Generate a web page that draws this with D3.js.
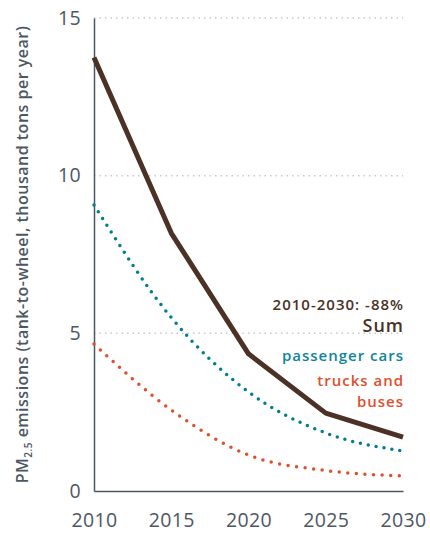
<!DOCTYPE html>
<html>
<head>
<meta charset="utf-8">
<script src="https://cdn.jsdelivr.net/npm/d3@7"></script>
<style>
  body { margin: 0; background: #fff; }
  #chart { width: 430px; height: 533px; }
  .axis text { font-family: "Open Sans", sans-serif; font-size: 19.5px; fill: #4d5763; letter-spacing: 0.3px; }
  .axis path, .axis line { stroke: #4d5763; }
  .ylabel { font-family: "Open Sans", sans-serif; font-size: 16px; font-weight: 600; fill: #4d5763; letter-spacing: 0.5px; }
  .lbl { font-family: "Open Sans", sans-serif; font-weight: 600; letter-spacing: 1px; }
</style>
</head>
<body>
<div id="chart"></div>
<script>
// chart data
let years = [2010, 2015, 2020, 2025, 2030];
let sumValues = [13.75, 8.18, 4.35, 2.47, 1.71];
let carValues = [9.07, 5.5, 3.14, 1.84, 1.27];
let truckValues = [4.66, 2.57, 1.14, 0.65, 0.48];
let yTicks = [0, 5, 10, 15];
let xTicks = [2010, 2015, 2020, 2025, 2030];

let margin = {top: 18, right: 27, bottom: 42, left: 94};
let width = 430 - margin.left - margin.right;
let height = 533 - margin.top - margin.bottom;

let svg = d3.select("#chart").append("svg")
    .attr("width", 430)
    .attr("height", 533)
    .append("g")
    .attr("transform", "translate(" + margin.left + "," + margin.top + ")");

let x = d3.scaleLinear().domain([2010, 2030]).range([0, width]);
let y = d3.scaleLinear().domain([0, 15]).range([height, 0]);

// gridlines
svg.selectAll(".grid")
    .data(yTicks.filter(d => d > 0))
    .enter().append("line")
    .attr("class", "grid")
    .attr("x1", 0)
    .attr("x2", width)
    .attr("y1", d => y(d))
    .attr("y2", d => y(d))
    .attr("stroke", "#c9c9c9")
    .attr("stroke-width", 1.5)
    .attr("stroke-dasharray", "1.5 4");

// axes
let xAxis = d3.axisBottom(x).tickValues(xTicks).tickFormat(d3.format("d")).tickSize(0).tickPadding(22);
let yAxis = d3.axisLeft(y).tickValues(yTicks).tickSize(0).tickPadding(13);

svg.append("g")
    .attr("class", "x-axis axis")
    .attr("transform", "translate(0," + height + ")")
    .call(xAxis)
    .call(g => g.select(".domain").attr("stroke-width", 1.5));

svg.append("g")
    .attr("class", "y-axis axis")
    .call(yAxis)
    .call(g => g.select(".domain").attr("stroke-width", 1.5));

// y label
let yl = svg.append("text")
    .attr("class", "ylabel")
    .attr("text-anchor", "middle")
    .attr("transform", "translate(" + (-66) + "," + y(7.5) + ") rotate(-90)");
yl.append("tspan").text("PM");
yl.append("tspan").attr("font-size", "10px").attr("dy", 4).text("2.5");
yl.append("tspan").attr("dy", -4).text(" emissions (tank-to-wheel, thousand tons per year)");

// lines
let line = d3.line()
    .x((d, i) => x(years[i]))
    .y(d => y(d));

let curved = d3.line()
    .x((d, i) => x(years[i]))
    .y(d => y(d))
    .curve(d3.curveMonotoneX);

svg.append("path")
    .datum(truckValues)
    .attr("d", curved)
    .attr("fill", "none")
    .attr("stroke", "#df4f2c")
    .attr("stroke-width", 3.5)
    .attr("stroke-linecap", "round")
    .attr("stroke-dasharray", "0 8.6");

svg.append("path")
    .datum(carValues)
    .attr("d", curved)
    .attr("fill", "none")
    .attr("stroke", "#007d90")
    .attr("stroke-width", 3.5)
    .attr("stroke-linecap", "round")
    .attr("stroke-dasharray", "0 8");

svg.append("path")
    .datum(sumValues)
    .attr("d", line)
    .attr("fill", "none")
    .attr("stroke", "#4b3126")
    .attr("stroke-width", 5)
    .attr("stroke-linejoin", "round");

// labels
let lx = width + 1;
svg.append("text").attr("class", "lbl")
    .attr("x", lx).attr("y", y(5.75))
    .attr("text-anchor", "end").attr("font-size", "15px").attr("fill", "#4b3126")
    .text("2010-2030: -88%");
svg.append("text").attr("class", "lbl")
    .attr("x", lx).attr("y", y(5.05))
    .attr("text-anchor", "end").attr("font-size", "18px").attr("font-weight", 800).attr("fill", "#4b3126")
    .text("Sum");
svg.append("text").attr("class", "lbl")
    .attr("x", lx).attr("y", y(4.12))
    .attr("text-anchor", "end").attr("font-size", "15px").attr("fill", "#0d8598")
    .text("passenger cars");
svg.append("text").attr("class", "lbl")
    .attr("x", lx).attr("y", y(3.32))
    .attr("text-anchor", "end").attr("font-size", "15px").attr("fill", "#df4f2c")
    .text("trucks and");
svg.append("text").attr("class", "lbl")
    .attr("x", lx).attr("y", y(2.66))
    .attr("text-anchor", "end").attr("font-size", "15px").attr("fill", "#df4f2c")
    .text("buses");
</script>
</body>
</html>
